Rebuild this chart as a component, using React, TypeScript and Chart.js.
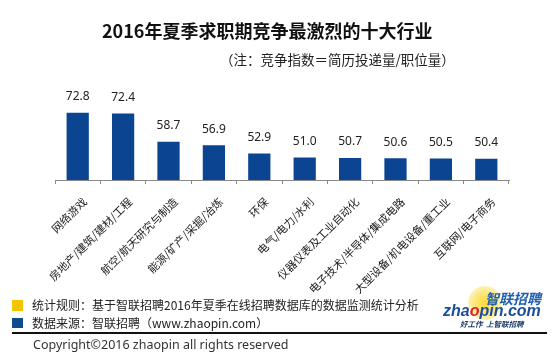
import React, { useEffect, useRef } from "react";
import { Chart, registerables } from "chart.js";

Chart.register(...registerables);

const categories = [
  "网络游戏",
  "房地产/建筑/建材/工程",
  "航空/航天研究与制造",
  "能源/矿产/采掘/冶炼",
  "环保",
  "电气/电力/水利",
  "仪器仪表及工业自动化",
  "电子技术/半导体/集成电路",
  "大型设备/机电设备/重工业",
  "互联网/电子商务",
];
const values = [72.8, 72.4, 58.7, 56.9, 52.9, 51.0, 50.7, 50.6, 50.5, 50.4];
const yMin = 40;
const yMax = 80;

const titleText = "2016年夏季求职期竞争最激烈的十大行业";
const subtitleText = "（注：竞争指数＝简历投递量/职位量）";
const ruleText = "统计规则：基于智联招聘2016年夏季在线招聘数据库的数据监测统计分析";
const sourceText = "数据来源：智联招聘（www.zhaopin.com）";
const copyrightText = "Copyright©2016 zhaopin all rights reserved";

const CJK = '"Noto Sans CJK SC", "Noto Sans", sans-serif';

const valueLabels = {
  id: "valueLabels",
  afterDatasetsDraw(chart: any) {
    const ctx = chart.ctx;
    const meta = chart.getDatasetMeta(0);
    ctx.save();
    ctx.font = '12px "Noto Sans", sans-serif';
    ctx.fillStyle = "#222";
    ctx.textAlign = "center";
    ctx.textBaseline = "middle";
    meta.data.forEach((el: any, i: number) => {
      ctx.fillText(values[i].toFixed(1), el.x, el.y - 16);
    });
    ctx.restore();
  },
};

export default function App() {
  const ref = useRef<HTMLCanvasElement>(null);

  useEffect(() => {
    if (!ref.current) return;
    const chart = new Chart(ref.current, {
      type: "bar",
      data: {
        labels: categories,
        datasets: [
          {
            data: values,
            backgroundColor: "#0b4591",
            barPercentage: 0.49,
            categoryPercentage: 1,
          },
        ],
      },
      options: {
        animation: false,
        responsive: false,
        maintainAspectRatio: false,
        layout: { padding: { left: 55, right: 49, top: 98, bottom: 0 } },
        plugins: {
          legend: { display: false },
          tooltip: { enabled: false },
          title: { display: false },
        },
        scales: {
          x: {
            offset: true,
            grid: {
              offset: true,
              drawOnChartArea: false,
              drawTicks: true,
              tickLength: 4,
              color: "#888",
            },
            border: { color: "#888", width: 1 },
            ticks: {
              autoSkip: false,
              maxRotation: 45,
              minRotation: 45,
              padding: 11,
              labelOffset: 7,
              color: "#1a1a1a",
              font: { family: CJK, size: 11 },
            },
            afterFit: (s: any) => {
              s.height = 181;
            },
          },
          y: { display: false, min: yMin, max: yMax },
        },
      },
      plugins: [valueLabels],
    });
    return () => chart.destroy();
  }, []);

  return (
    <div
      style={{
        position: "absolute",
        left: 0,
        top: 0,
        width: 558,
        height: 361,
        background: "#fff",
        overflow: "hidden",
        fontFamily: CJK,
        color: "#222",
      }}
    >
      <canvas
        ref={ref}
        width={558}
        height={361}
        style={{ position: "absolute", left: 0, top: 0, width: 558, height: 361 }}
      />
      <div
        style={{
          position: "absolute",
          left: 102,
          top: 18,
          lineHeight: "24px",
          fontSize: 18,
          fontWeight: 700,
          color: "#111",
          whiteSpace: "nowrap",
        }}
      >
        {titleText}
      </div>
      <div
        style={{
          position: "absolute",
          left: 220,
          top: 50,
          lineHeight: "18px",
          fontSize: 13.5,
          whiteSpace: "nowrap",
        }}
      >
        {subtitleText}
      </div>

      <div style={{ position: "absolute", left: 12, top: 300, width: 11, height: 11, background: "#f2c500" }} />
      <div style={{ position: "absolute", left: 12, top: 318, width: 11, height: 10, background: "#0e4a8c" }} />
      <div
        style={{ position: "absolute", left: 32, top: 296, lineHeight: "18px", fontSize: 12, whiteSpace: "nowrap" }}
      >
        {ruleText}
      </div>
      <div
        style={{ position: "absolute", left: 32, top: 314, lineHeight: "18px", fontSize: 12, whiteSpace: "nowrap" }}
      >
        {sourceText}
      </div>
      <div style={{ position: "absolute", left: 12, top: 332, width: 535, height: 1.5, background: "#111" }} />
      <div
        style={{
          position: "absolute",
          left: 33,
          top: 336,
          lineHeight: "18px",
          fontSize: 12.5,
          fontFamily: '"Noto Sans", sans-serif',
          color: "#333",
          whiteSpace: "nowrap",
        }}
      >
        {copyrightText}
      </div>

      {/* logo */}
      <div
        style={{
          position: "absolute",
          left: 468,
          top: 286,
          width: 34,
          height: 34,
          borderRadius: "50%",
          background: "radial-gradient(circle, rgba(250,215,40,0.95) 0%, rgba(250,220,60,0.6) 50%, rgba(255,240,150,0) 100%)",
        }}
      />
      <div
        style={{
          position: "absolute",
          left: 485,
          top: 290,
          lineHeight: "16px",
          fontSize: 14,
          fontWeight: 700,
          fontStyle: "italic",
          color: "#1f5fb0",
          whiteSpace: "nowrap",
        }}
      >
        智联招聘
      </div>
      <div
        style={{
          position: "absolute",
          left: 443,
          top: 302,
          lineHeight: "18px",
          fontSize: 16,
          fontWeight: 700,
          fontStyle: "italic",
          fontFamily: '"Liberation Sans", Arial, sans-serif',
          color: "#1b4f9e",
          whiteSpace: "nowrap",
        }}
      >
        zha<span style={{ color: "#d9232a" }}>o</span>pin.com
      </div>
      <div
        style={{
          position: "absolute",
          left: 460,
          top: 319,
          lineHeight: "10px",
          fontSize: 7.5,
          fontWeight: 700,
          fontStyle: "italic",
          color: "#1a3a6a",
          whiteSpace: "nowrap",
        }}
      >
        好工作&nbsp;&nbsp;上智联招聘
      </div>
    </div>
  );
}
